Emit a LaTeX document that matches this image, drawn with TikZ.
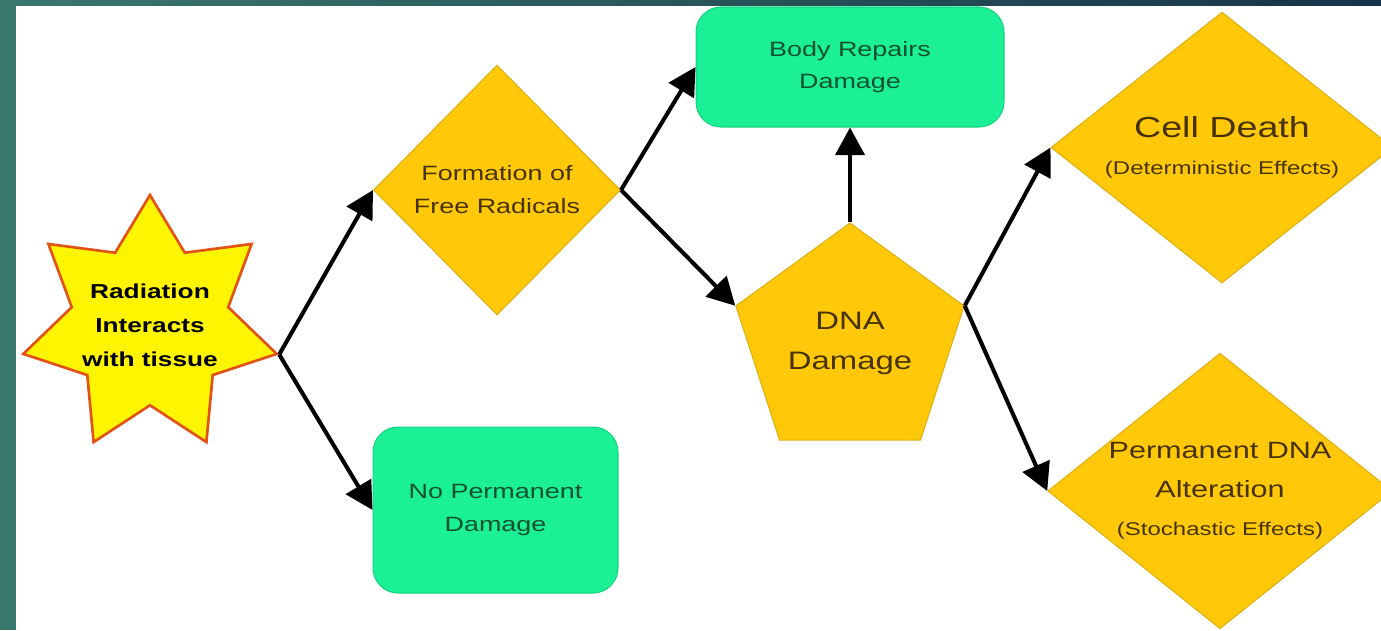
\documentclass[tikz,border=0pt]{standalone}
\usepackage{fontspec}
\usepackage{xcolor}
\usepackage{tikz}
\usetikzlibrary{arrows.meta,shapes.geometric}
\newfontfamily\diagfont{Liberation Sans}[FakeStretch=1.3]
\definecolor{gold}{RGB}{255,201,10}
\definecolor{goldline}{RGB}{222,176,20}
\definecolor{goldtext}{RGB}{72,50,0}
\definecolor{mint}{RGB}{28,240,150}
\definecolor{mintline}{RGB}{20,212,128}
\definecolor{minttext}{RGB}{14,82,46}
\definecolor{starfill}{RGB}{255,245,0}
\definecolor{starline}{RGB}{226,82,22}
\definecolor{edge}{RGB}{58,120,110}
\definecolor{edgedark}{RGB}{22,52,72}

\begin{document}
\begin{tikzpicture}[
  x=0.02cm, y=-0.02cm,
  burst/.style={star, star points=7, star point ratio=1.62, minimum size=5.2cm,
    inner sep=-9pt, fill=starfill, draw=starline, line width=1.5pt, align=center,
    font=\diagfont\bfseries\fontsize{11.5}{19.3}\selectfont},
  decide/.style={diamond, aspect=1.25, inner sep=0pt, fill=gold, draw=goldline,
    line width=0.6pt, align=center, text=goldtext},
  outcome/.style={rectangle, rounded corners=0.5cm, fill=mint, draw=mintline,
    line width=0.6pt, align=center, text=minttext,
    font=\diagfont\fontsize{11.8}{18.4}\selectfont},
  hub/.style={regular polygon, regular polygon sides=5, minimum size=4.8cm,
    inner sep=0pt, fill=gold, draw=goldline, line width=0.6pt, align=center,
    text=goldtext, font=\diagfont\fontsize{14.4}{22.8}\selectfont},
  link/.style={-{Triangle[length=0.55cm, width=0.58cm]}, line width=2.3pt}
]
  \useasboundingbox (0,0) rectangle (1381,630);
  \fill[white] (0,0) rectangle (1381,630);
  \fill[left color=edge, right color=edgedark] (0,0) rectangle (1381,5);
  \fill[edge] (0,0) rectangle (16,630);

  \node[burst] (R) at (150,325) {Radiation\\Interacts\\with tissue};
  \node[decide, aspect=1, minimum width=4.94cm, minimum height=5cm,
    font=\diagfont\fontsize{11.8}{18.8}\selectfont] (FR) at (497,190)
    {Formation of\\Free Radicals};
  \node[outcome, minimum width=4.9cm, minimum height=3.32cm] (NP) at (495.5,510)
    {No Permanent\\Damage};
  \node[outcome, minimum width=6.16cm, minimum height=2.4cm] (BR) at (850,67)
    {Body Repairs\\Damage};
  \node[hub] (DNA) at (850,343) {DNA\\Damage};
  \node[decide, minimum width=6.84cm, minimum height=5.42cm,
    font=\diagfont\fontsize{16.5}{21}\selectfont] (CD) at (1222,147.5)
    {Cell Death\\{\fontsize{10.5}{14}\selectfont(Deterministic Effects)}};
  \node[decide, minimum width=6.88cm, minimum height=5.44cm,
    font=\diagfont\fontsize{13.4}{22}\selectfont] (PA) at (1220,491)
    {Permanent DNA\\Alteration\\{\fontsize{10.5}{14}\selectfont(Stochastic Effects)}};

  \draw[link] (R.outer point 6) -- (FR.west);
  \draw[link] (R.outer point 6) -- (NP.west);
  \draw[link] (FR.east) -- (BR.west);
  \draw[link] (FR.east) -- (DNA.corner 2);
  \draw[link] (DNA.corner 1) -- (BR.south);
  \draw[link] (DNA.corner 5) -- (CD.west);
  \draw[link] (DNA.corner 5) -- (PA.west);
\end{tikzpicture}
\end{document}
